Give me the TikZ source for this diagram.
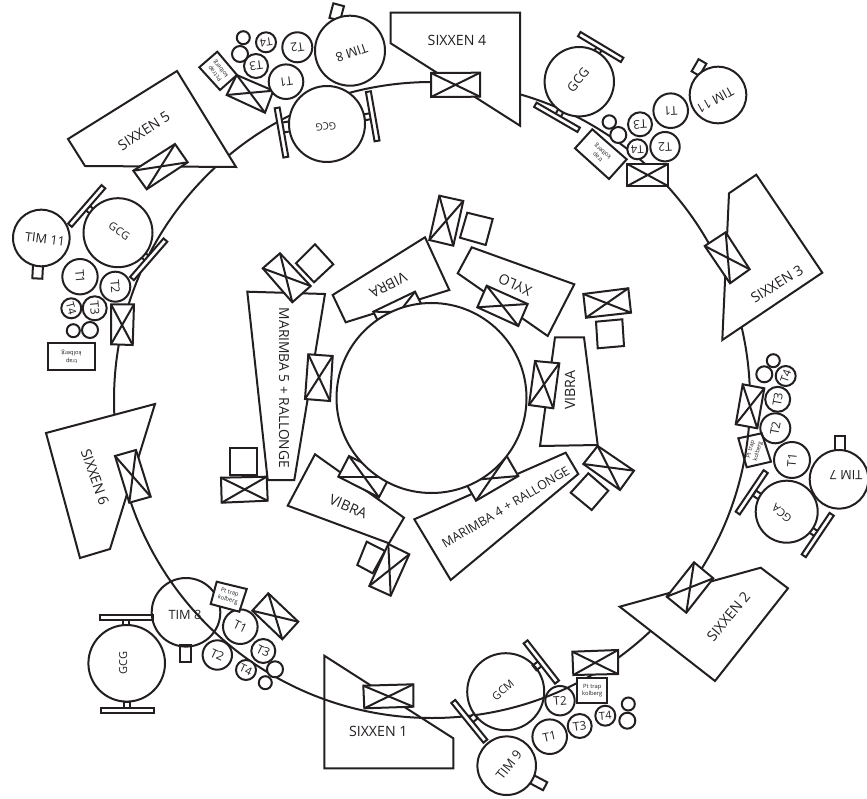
\documentclass[tikz,border=0pt]{standalone}
\usepackage{fontspec}
\setmainfont{Open Sans}
\definecolor{ink}{HTML}{231F20}
\newcommand{\fS}{\fontsize{14.2}{16}\selectfont}
\newcommand{\fM}{\fontsize{12.6}{15}\selectfont}
\newcommand{\fN}{\fontsize{13.8}{16}\selectfont}
\newcommand{\fA}{\fontsize{12.8}{15}\selectfont}
\newcommand{\fB}{\fontsize{12}{14}\selectfont}
\newcommand{\fC}{\fontsize{11}{13}\selectfont}
\newcommand{\fD}{\fontsize{10}{12}\selectfont}
\newcommand{\fE}{\fontsize{5.8}{7.6}\selectfont}
\tikzset{
  ln/.style={draw=ink,line width=2pt,line join=miter},
  wf/.style={ln,fill=white},
  lab/.style={inner sep=0pt,text=ink,align=center},
}
\newcommand{\xb}[4]{\filldraw[wf] #1 -- #2 -- #3 -- #4 -- cycle; \draw[ln] #1 -- #3; \draw[ln] #2 -- #4;}
\newcommand{\sq}[4]{\filldraw[wf] #1 -- #2 -- #3 -- #4 -- cycle;}
\newcommand{\cc}[3]{\filldraw[wf] (#1,#2) circle[radius=#3];}
\newcommand{\ccn}[3]{\draw[ln] (#1,#2) circle[radius=#3];}
\newcommand{\rr}[5]{\filldraw[wf,shift={(#1,#2)},rotate=#5] (-#3/2,-#4/2) rectangle (#3/2,#4/2);}
\newcommand{\lb}[6]{\node[lab,rotate=#4,font=#5] (#1) at (#2,#3) {#6};}
\begin{document}
\begin{tikzpicture}[x=1pt,y=-1pt]
\useasboundingbox (0,0) rectangle (867,799);
% outer ring
\draw[ln] (432,400) circle[radius=318];
% SIXXEN polygons
\sq{(390.7,12.7)}{(520,12.7)}{(520,125.7)}{(390.7,43.3)}
\sq{(756.3,174.7)}{(822.3,272.7)}{(722.3,340)}{(729,193.3)}
\sq{(619.7,606.7)}{(760.7,567.7)}{(788,588.3)}{(715,681)}
\draw[ln] (324.3,655.7) -- (453.3,738.3) -- (453.3,768.3) -- (324.3,768.3) -- cycle;
\sq{(46,433)}{(155,404)}{(110,549)}{(80,558)}
\filldraw[wf] (177,71) -- (236,167) -- (85,166) -- (68,139) -- cycle;
\xb{(431,73)}{(480,72.7)}{(480,96.7)}{(431,97)}
\xb{(704.7,246)}{(725.7,232.3)}{(749.7,269.3)}{(730,283.3)}
\xb{(694,562.3)}{(713.3,578.3)}{(686.3,612.7)}{(666.7,596.7)}
\xb{(363.3,685.7)}{(413.3,684.3)}{(413.3,706.7)}{(364.3,708.3)}
\xb{(115,456)}{(136,450)}{(150.7,496.7)}{(129.3,502.7)}
\xb{(133.3,170.7)}{(175,144)}{(187.7,162.3)}{(146.7,189.3)}
\lb{s1}{378.3}{731}{0}{\fS}{SIXXEN 1}
\lb{s2}{728.5}{616.5}{50}{\fS}{SIXXEN 2}
\lb{s3}{777}{284}{32}{\fS}{SIXXEN 3}
\lb{s4}{457}{40}{0}{\fS}{SIXXEN 4}
\lb{s5}{144}{131}{33}{\fS}{SIXXEN 5}
\lb{s6}{95}{477.3}{-71}{\fS}{SIXXEN 6}
% central instruments
\sq{(471.7,247.3)}{(574.3,284.3)}{(547.7,336)}{(457.7,273.3)}
\xb{(486.7,285.7)}{(527.7,304)}{(518.3,326)}{(477.3,307.3)}
\xb{(583.3,294)}{(628.3,288.3)}{(631,312.7)}{(586,317.7)}
\sq{(596,321.7)}{(622.3,319.3)}{(624,346)}{(597.7,348.3)}
\sq{(425,237.3)}{(449.3,290)}{(345.7,322.3)}{(332.7,295)}
\xb{(415,291.7)}{(425.3,312.3)}{(383.7,332.3)}{(373.3,311.7)}
\xb{(439.3,195.7)}{(463.3,201)}{(453.3,245.7)}{(429.3,240)}
\sq{(467.3,212.7)}{(492.7,219)}{(485.7,245)}{(460,237.7)}
\sq{(555,337.3)}{(584,337.3)}{(597.7,445)}{(540,446)}
\xb{(535,361)}{(559.3,363.3)}{(553.3,408.3)}{(529,405)}
\xb{(597.7,446)}{(634,470.7)}{(620,490)}{(583.3,464)}
\sq{(588.3,473.3)}{(608.3,490.7)}{(591.7,510)}{(570.7,492.7)}
\sq{(565.7,452.7)}{(578.3,474)}{(450.7,580)}{(414.3,519.3)}
\xb{(506.7,456)}{(518.3,476)}{(476,500.7)}{(464.3,480.7)}
\sq{(315,454.3)}{(404,517.7)}{(389,543.3)}{(287.7,505.7)}
\xb{(349,456)}{(389.7,476.7)}{(379,497.3)}{(338.3,476.7)}
\sq{(366.7,541.7)}{(385,551)}{(372.7,573.3)}{(357.3,565)}
\xb{(388.3,544)}{(409.3,554.3)}{(390.7,595.7)}{(369.3,586)}
\sq{(247.3,291.7)}{(325,294)}{(294.3,480)}{(267.7,480)}
\xb{(308.3,354.3)}{(332.7,356)}{(330,401)}{(305,399)}
\xb{(280,253.3)}{(310.7,286)}{(292.3,302.3)}{(262.7,268.3)}
\sq{(315,244.3)}{(333.3,264.3)}{(314,282.3)}{(296,263.3)}
\sq{(230,448.3)}{(256.7,448.3)}{(256.7,475)}{(230,475)}
\xb{(221,477.7)}{(266.7,476.7)}{(267.7,500.7)}{(221.7,502.7)}
\filldraw[wf] (431.5,398) circle[radius=95];
\lb{xylo}{515}{285}{157}{\fS}{XYLO}
\lb{v1}{388.3}{285}{207}{\fS}{VIBRA}
\lb{v2}{570}{390}{90}{\fS}{VIBRA}
\lb{v3}{348.3}{506.7}{-23}{\fS}{VIBRA}
\lb{m4}{505.7}{507.3}{31}{\fM}{MARIMBA 4 + RALLONGE}
\lb{m5}{284}{388}{-90}{\fN}{MARIMBA 5 + RALLONGE}
% top-left cluster
\rr{286}{127}{10}{7}{-80}
\rr{367.7}{116.7}{6}{7}{-80}
\rr{281.5}{132.5}{50}{5}{-80}
\rr{372.7}{116.3}{50}{5}{-80}
\cc{327}{124}{38}
\rr{336.7}{12}{11}{15}{-15}
\cc{350}{50.7}{35}
\xb{(226.7,95)}{(236.7,75)}{(273.3,90.7)}{(265,112.7)}
\sq{(199.3,67.3)}{(217.3,51.7)}{(237,75)}{(220,90)}
\cc{286}{81.7}{17.3}\cc{297.3}{47.3}{15}\cc{256}{66}{12}\cc{266}{42.3}{10}\cc{243.3}{37.7}{6.5}\cc{240}{54}{8}
\lb{g1}{326}{126.7}{185}{\fD}{GCG}
\lb{t81}{351.7}{52.7}{199}{\fA}{TIM 8}
\lb{a1}{286}{81.7}{188}{\fB}{T1}
\lb{a2}{297.3}{47.3}{188}{\fB}{T2}
\lb{a3}{256}{66}{188}{\fB}{T3}
\lb{a4}{266}{42.3}{188}{\fC}{T4}
\lb{pa}{218.2}{71}{130}{\fE}{Pt trap\\kolberg}
% top-right cluster
\rr{597.3}{51.7}{6}{7}{-31}
\rr{559.7}{112.7}{6}{7}{-30}
\rr{600.7}{47}{50}{5}{-31}
\rr{557}{117.3}{50}{5}{-30}
\cc{579.3}{81.7}{34.7}
\rr{699}{67.5}{9}{14}{-30}
\cc{718}{95}{28.3}
\cc{670.7}{110.7}{17.3}\cc{665}{146.7}{14.7}\cc{640}{124.3}{12}\cc{637.3}{149.3}{10}\cc{609.3}{122}{6.7}\cc{618.3}{135}{8}
\sq{(592.3,129.3)}{(626.7,159.3)}{(609,179)}{(575,148.3)}
\xb{(627.3,164)}{(668,164)}{(668,186)}{(627.3,186)}
\lb{g2}{578}{80}{50}{\fA}{GCG}
\lb{t11a}{715}{100}{209}{\fA}{TIM 11}
\lb{b1}{670.7}{110.7}{183}{\fB}{T1}
\lb{b2}{665}{146.7}{183}{\fB}{T2}
\lb{b3}{640}{124.3}{183}{\fB}{T3}
\lb{b4}{637.3}{149.3}{183}{\fC}{T4}
\lb{pb}{600.5}{154}{139}{\fE}{trap\\kolberg}
% left cluster
\rr{89.3}{209.3}{6}{7}{49}
\rr{144.3}{256}{6}{7}{49}
\rr{86.7}{206}{51}{5}{49}
\rr{148.7}{259.3}{51}{5}{49}
\cc{118}{232.7}{34.5}
\rr{37.7}{271}{10}{15}{-3}
\cc{41.3}{238}{28.3}
\cc{80}{276.7}{17.7}\cc{115.3}{286.7}{15}\cc{94.7}{308.3}{12}\cc{71.3}{308.3}{10}\cc{73.3}{330.7}{6.5}\cc{90}{330}{8}
\xb{(111,304.3)}{(134,304.3)}{(132.7,345)}{(111,344.3)}
\filldraw[wf] (48.3,342.7) rectangle (95,370);
\lb{g3}{119.3}{231}{-35}{\fC}{GCG}
\lb{t11b}{45}{239}{-7}{\fA}{TIM 11}
\lb{c1}{80}{276.7}{-85}{\fB}{T1}
\lb{c2}{115.3}{286.7}{-85}{\fB}{T2}
\lb{c3}{94.7}{308.3}{-85}{\fB}{T3}
\lb{c4}{71.3}{308.3}{-75}{\fC}{T4}
\lb{pc}{71.5}{356.5}{180}{\fE}{trap\\kolberg}
% bottom-left cluster
\rr{126}{622.3}{6}{7}{0}
\rr{126.7}{705}{6}{7}{0}
\rr{126.3}{617.3}{52.7}{5}{0}
\rr{127.3}{710}{52.7}{5}{0}
\cc{126.7}{663.3}{38.3}
\rr{185.3}{653}{10.7}{17}{0}
\ccn{186}{612.3}{34.3}
\cc{240.3}{626.7}{17.3}\cc{217.3}{655}{14.7}\cc{263.3}{651}{12}\cc{246}{670}{10}\cc{275}{669.3}{8}\cc{265.3}{682.7}{6.5}
\sq{(216.7,581.7)}{(246.7,589)}{(239.3,611.7)}{(210.7,604)}
\xb{(252.3,610.7)}{(268.3,593.3)}{(298.3,621.7)}{(282.3,639.3)}
\lb{g4}{123.3}{663.3}{90}{\fC}{GCG}
\lb{t8b}{185}{615}{0}{\fA}{TIM 8}
\lb{d1}{240.3}{626.7}{-25}{\fB}{T1}
\lb{d2}{217.3}{655}{-25}{\fB}{T2}
\lb{d3}{263.3}{651}{-25}{\fB}{T3}
\lb{d4}{246}{670}{-25}{\fC}{T4}
\lb{pd}{228.7}{596.5}{-15}{\fE}{Pt trap\\kolberg}
% bottom-right cluster
\rr{537.3}{665.7}{6}{7}{-52}
\rr{473}{718.3}{6}{7}{-51}
\rr{541.3}{662}{51}{5}{-52}
\rr{469.3}{721.3}{51}{5}{-51}
\ccn{505.7}{691.7}{38.5}
\rr{538.5}{782.7}{15}{9}{-28}
\cc{506.7}{765.7}{29.3}
\cc{549.7}{736.7}{17.3}
\ccn{560}{700.7}{14.7}
\cc{579.7}{726}{12}\cc{605.3}{715.7}{10}\cc{628.3}{704}{6.5}\cc{627.3}{720.7}{8}
\filldraw[wf] (577.3,678.3) rectangle (607.3,702.7);
\xb{(572.3,651.7)}{(618,650)}{(618,674)}{(573.3,675)}
\lb{g5}{503}{690}{40}{\fC}{GCM}
\lb{t9}{509}{765}{52}{\fA}{TIM 9}
\lb{e1}{549.7}{736.7}{12}{\fB}{T1}
\lb{e2}{560}{700.7}{5}{\fB}{T2}
\lb{e3}{579.7}{726}{8}{\fB}{T3}
\lb{e4}{605.3}{715.7}{5}{\fC}{T4}
\lb{pe}{592.3}{690.5}{0}{\fE}{Pt trap\\kolberg}
% right cluster
\rr{757.3}{495}{6}{7}{56}
\rr{813.3}{531.7}{6}{7}{56}
\rr{751.7}{492.3}{50}{5}{56}
\rr{817.7}{535}{50}{5}{56}
\cc{786.7}{511.7}{31}
\rr{840}{443}{10}{15}{0}
\cc{839}{479.3}{29.3}
\cc{792}{460}{18}\cc{775.3}{428.3}{15}\cc{777.7}{399.3}{12.5}\cc{785.7}{376}{10}\cc{764.3}{374.3}{8}\cc{773.3}{360.7}{6.5}
\xb{(742.7,384.3)}{(764.3,388.3)}{(757.3,428.3)}{(735.7,424.3)}
\draw[ln] (738.3,438.3) -- (761.7,433.3) -- (771,461.7) -- (746.7,467.3) -- cycle;
\lb{g6}{781.7}{513.3}{139}{\fC}{GCA}
\lb{t7}{846}{475}{180}{\fA}{TIM 7}
\lb{f1}{792}{460}{85}{\fB}{T1}
\lb{f2}{775.3}{428.3}{80}{\fB}{T2}
\lb{f3}{777.7}{399.3}{80}{\fB}{T3}
\lb{f4}{785.7}{376}{70}{\fC}{T4}
\lb{pf}{754.5}{450.5}{75}{\fE}{Pt trap\\kolberg}
\end{tikzpicture}
\end{document}
